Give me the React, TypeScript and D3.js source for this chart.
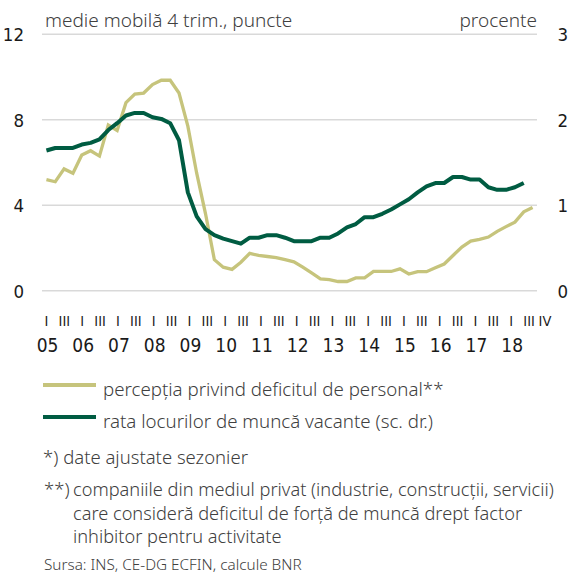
import { useEffect, useRef } from "react";
import * as d3 from "d3";

// quarters 2005 Q1 .. 2018 Q4
const years = d3.range(2005, 2019);
const quarters = years.flatMap((y) => [1, 2, 3, 4].map((q) => `${y}Q${q}`));

// percepția privind deficitul de personal (sc. stg., puncte)
const perceptie = [
  5.2, 5.1, 5.7, 5.5, 6.35, 6.55, 6.3, 7.75, 7.5, 8.8, 9.2, 9.25, 9.65, 9.85,
  9.85, 9.25, 7.7, 5.5, 3.6, 1.45, 1.1, 1.0, 1.33, 1.75, 1.65, 1.6, 1.55, 1.45,
  1.35, 1.1, 0.83, 0.55, 0.52, 0.43, 0.43, 0.6, 0.6, 0.9, 0.9, 0.9, 1.02, 0.78,
  0.89, 0.89, 1.07, 1.25, 1.65, 2.04, 2.32, 2.4, 2.51, 2.78, 3.0, 3.21, 3.69,
  3.89,
];

// rata locurilor de muncă vacante (sc. dr., procente)
const rataVacante = [
  1.64, 1.67, 1.67, 1.67, 1.71, 1.73, 1.77, 1.88, 1.96, 2.05, 2.08, 2.08, 2.03,
  2.01, 1.96, 1.76, 1.15, 0.87, 0.72, 0.65, 0.61, 0.58, 0.55, 0.62, 0.62, 0.65,
  0.65, 0.62, 0.58, 0.58, 0.58, 0.62, 0.62, 0.67, 0.74, 0.78, 0.86, 0.86, 0.9,
  0.95, 1.01, 1.07, 1.15, 1.22, 1.26, 1.26, 1.33, 1.33, 1.3, 1.3, 1.21, 1.18,
  1.18, 1.21, 1.26,
];

const leftTicks = [0, 4, 8, 12];
const rightTicks = [0, 1, 2, 3];

const legendItems = [
  "percepția privind deficitul de personal**",
  "rata locurilor de muncă vacante (sc. dr.)",
];
const noteLines = [
  "companiile din mediul privat (industrie, construcții, servicii)",
  "care consideră deficitul de forță de muncă drept factor",
  "inhibitor pentru activitate",
];

const YELLOW = "#c6c47c";
const GREEN = "#005c42";
const GRID = "#d9d9d9";
const TXT = "#404040";
const NARROW = "'Liberation Sans Narrow', 'DejaVu Sans Condensed', sans-serif";
const LIGHT = "'Noto Sans', 'Open Sans', sans-serif";

function App() {
  const ref = useRef<SVGSVGElement>(null);

  useEffect(() => {
    const svg = d3.select(ref.current);
    svg.selectAll("*").remove();

    const x = d3.scalePoint<string>().domain(quarters).range([42, 537]).padding(0.5);
    // label row is spaced a little wider than the plot
    const xLab = d3.scalePoint<string>().domain(quarters).range([46.5, 538]);
    const yL = d3.scaleLinear().domain([0, 12]).range([290.7, 34.3]);
    const yR = d3.scaleLinear().domain([0, 3]).range([290.7, 34.3]);

    // grid
    svg.append("g")
      .selectAll("line")
      .data(leftTicks)
      .join("line")
      .attr("x1", 42)
      .attr("x2", 537)
      .attr("y1", (d) => yL(d))
      .attr("y2", (d) => yL(d))
      .attr("stroke", GRID)
      .attr("stroke-width", 1.5);

    // axis labels
    svg.append("g")
      .selectAll("text")
      .data(leftTicks)
      .join("text")
      .attr("x", 24)
      .attr("y", (d) => yL(d) + 7)
      .attr("text-anchor", "end")
      .attr("font-family", NARROW)
      .attr("font-size", 18.5)
      .attr("fill", "#1a1a1a")
      .text((d) => d);

    svg.append("g")
      .selectAll("text")
      .data(rightTicks)
      .join("text")
      .attr("x", 557.5)
      .attr("y", (d) => yR(d) + 7)
      .attr("font-family", NARROW)
      .attr("font-size", 18.5)
      .attr("fill", "#1a1a1a")
      .text((d) => d);

    // titles
    const txt = (t: string, tx: number, ty: number, size: number, anchor = "start") =>
      svg.append("text")
        .attr("x", tx)
        .attr("y", ty)
        .attr("text-anchor", anchor)
        .attr("font-family", LIGHT)
        .attr("font-weight", 300)
        .attr("font-size", size)
        .attr("fill", TXT)
        .text(t);
    txt("medie mobilă 4 trim., puncte", 45, 27, 19);
    txt("procente", 537, 27, 19, "end");

    // lines
    const lineL = d3.line<number>().x((_, i) => x(quarters[i])!).y((d) => yL(d));
    const lineR = d3.line<number>().x((_, i) => x(quarters[i])!).y((d) => yR(d));
    svg.append("path")
      .attr("d", lineL(perceptie))
      .attr("fill", "none")
      .attr("stroke", YELLOW)
      .attr("stroke-width", 3.3);
    svg.append("path")
      .attr("d", lineR(rataVacante))
      .attr("fill", "none")
      .attr("stroke", GREEN)
      .attr("stroke-width", 4)
      .attr("stroke-linejoin", "round");

    // x axis: quarter numerals and years
    const romans: { q: string; t: string }[] = [];
    years.forEach((y, k) => {
      romans.push({ q: `${y}Q1`, t: "I" });
      romans.push({ q: `${y}Q3`, t: "III" });
      if (k === years.length - 1) romans.push({ q: `${y}Q4`, t: "IV" });
    });
    svg.append("g")
      .selectAll("text")
      .data(romans)
      .join("text")
      .attr("x", (d) => xLab(d.q)! + (d.t === "IV" ? 7 : 0))
      .attr("y", 326)
      .attr("text-anchor", "middle")
      .attr("font-family", NARROW)
      .attr("font-size", 14.5)
      .attr("fill", "#1a1a1a")
      .text((d) => d.t);
    svg.append("g")
      .selectAll("text")
      .data(years)
      .join("text")
      .attr("x", (d) => xLab(`${d}Q1`)! + 1)
      .attr("y", 351.7)
      .attr("text-anchor", "middle")
      .attr("font-family", NARROW)
      .attr("font-size", 19)
      .attr("fill", "#1a1a1a")
      .text((d) => String(d).slice(2));

    // legend
    legendItems.forEach((t, i) => {
      const ly = 385 + i * 32;
      svg.append("line")
        .attr("x1", 43)
        .attr("x2", 96)
        .attr("y1", ly)
        .attr("y2", ly)
        .attr("stroke", i === 0 ? YELLOW : GREEN)
        .attr("stroke-width", 4);
      txt(t, 103, ly + 11, 18.7);
    });

    // notes
    txt("*) date ajustate sezonier", 43, 464, 18.5);
    txt("**)", 44, 496, 18.5);
    noteLines.forEach((t, i) => txt(t, 73, 496 + i * 23.7, 18.2));
    txt("Sursa: INS, CE-DG ECFIN, calcule BNR", 44, 570, 15.3);
  }, []);

  return <svg ref={ref} width={569} height={576} style={{ display: "block", position: "absolute", left: 0, top: 0 }} />;
}

export default App;
